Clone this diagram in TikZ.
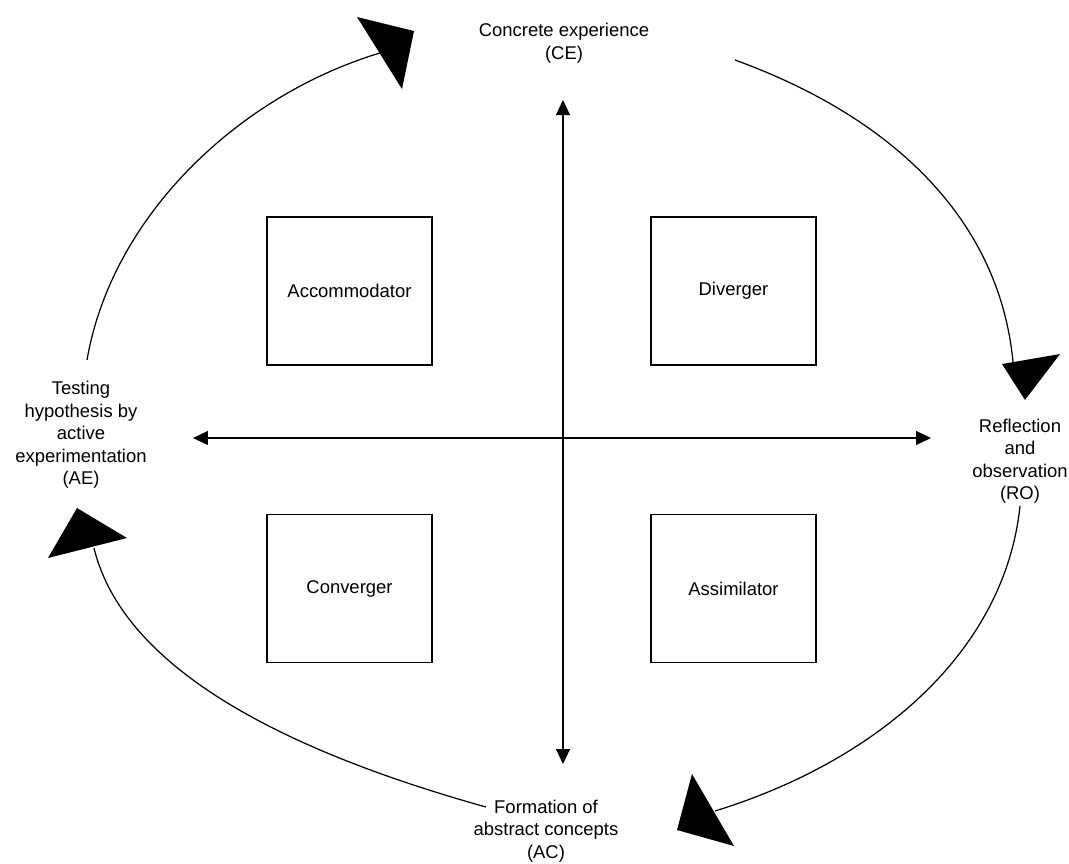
\documentclass[tikz,border=0pt]{standalone}
\usepackage{fontspec}
\setmainfont{Liberation Sans}
\usepackage{tikz}
\usetikzlibrary{arrows.meta, positioning, calc}
\tikzset{
  stylebox/.style={rectangle, draw, line width=0.7pt, minimum width=3.3cm,
                   minimum height=2.96cm, align=center, font=\fontsize{10.5}{13}\selectfont},
  modelabel/.style={align=center, font=\fontsize{10.5}{12.8}\selectfont, inner sep=0pt},
  axis/.style={{Triangle[length=3mm, width=2.8mm]}-{Triangle[length=3mm, width=2.8mm]}, line width=0.7pt},
  cycle/.style={line width=0.7pt},
  bighead/.style={fill=black},
}

\begin{document}
\begin{tikzpicture}[x=0.02cm, y=-0.02cm]
  \useasboundingbox (0,0) rectangle (1069,863);

  % learning modes round the cycle
  \node (ce) [modelabel] at (564,43) {Concrete experience\\(CE)};
  \node (ro) [modelabel] at (1020,461) {Reflection\\and\\observation\\(RO)};
  \node (ac) [modelabel] at (546,831) {Formation of\\abstract concepts\\(AC)};
  \node (ae) [modelabel] at (81,435) {Testing\\hypothesis by\\active\\experimentation\\(AE)};

  % the four learning styles
  \node (acc) [stylebox] at (349.5,291) {Accommodator};
  \node (div) [stylebox] at (733.5,291) {Diverger};
  \node (con) [stylebox] at (349.5,588.5) {Converger};
  \node (ass) [stylebox] at (733.5,588.5) {Assimilator};

  % axes
  \coordinate (top) at (563,100);
  \coordinate (bot) at (563,764);
  \coordinate (lft) at (193,438);
  \coordinate (rgt) at (931,438);
  \draw[axis] (top) -- (bot);
  \draw[axis] (lft) -- (rgt);

  % cycle arcs
  \coordinate (aeout) at (87,360);
  \coordinate (cein) at (380,53);
  \coordinate (ceout) at (735,60);
  \coordinate (roin) at (1013,362);
  \coordinate (roout) at (1020,506);
  \coordinate (acin) at (715,811);
  \coordinate (acout) at (486,807);
  \coordinate (aein) at (94,548);
  \draw[cycle] (aeout) .. controls (112,215) and (240,95) .. (cein);
  \draw[cycle] (ceout) .. controls (900,120) and (1000,225) .. (roin);
  \draw[cycle] (roout) .. controls (1005,650) and (880,760) .. (acin);
  \draw[cycle] (acout) .. controls (300,755) and (125,675) .. (aein);

  % heads
  \fill[bighead] (357,17) -- (414,31) -- (402,89) -- cycle;
  \fill[bighead] (1002,364) -- (1060,354) -- (1025,400) -- cycle;
  \fill[bighead] (692,774) -- (734,846) -- (677,830) -- cycle;
  \fill[bighead] (77,508) -- (127,538) -- (48,558) -- cycle;
\end{tikzpicture}
\end{document}
